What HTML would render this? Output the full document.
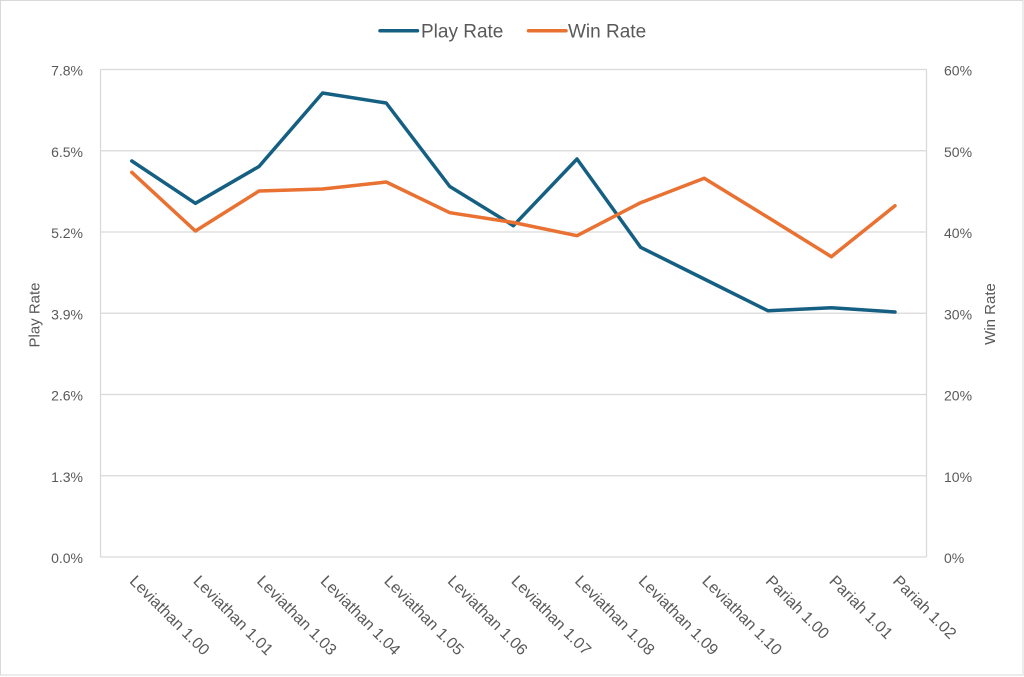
<!DOCTYPE html>
<html>
<head>
<meta charset="utf-8">
<style>
  html,body{margin:0;padding:0;background:#fff;}
  svg{display:block;}
  text{font-family:"Liberation Sans", sans-serif; fill:#595959;}
</style>
</head>
<body>
<svg width="1024" height="677" viewBox="0 0 1024 677" xmlns="http://www.w3.org/2000/svg">
  <rect x="0.5" y="0.5" width="1022.5" height="674.5" fill="#fff" stroke="#d9d9d9" stroke-width="1"/>

  <!-- gridlines -->
  <g stroke="#d9d9d9" stroke-width="1.3" fill="none">
    <line x1="100.5" y1="69.5" x2="926.5" y2="69.5"/>
    <line x1="100.5" y1="150.75" x2="926.5" y2="150.75"/>
    <line x1="100.5" y1="232" x2="926.5" y2="232"/>
    <line x1="100.5" y1="313.25" x2="926.5" y2="313.25"/>
    <line x1="100.5" y1="394.5" x2="926.5" y2="394.5"/>
    <line x1="100.5" y1="475.75" x2="926.5" y2="475.75"/>
    <line x1="100.5" y1="557" x2="926.5" y2="557"/>
    <line x1="100.5" y1="69.5" x2="100.5" y2="557"/>
    <line x1="926.5" y1="69.5" x2="926.5" y2="557"/>
  </g>

  <!-- left axis labels -->
  <g font-size="14" text-anchor="end">
    <text x="83" y="75.5">7.8%</text>
    <text x="83" y="156.75">6.5%</text>
    <text x="83" y="238">5.2%</text>
    <text x="83" y="319.25">3.9%</text>
    <text x="83" y="400.5">2.6%</text>
    <text x="83" y="481.75">1.3%</text>
    <text x="83" y="563">0.0%</text>
  </g>

  <!-- right axis labels -->
  <g font-size="14" text-anchor="start">
    <text x="944" y="75.5">60%</text>
    <text x="944" y="156.75">50%</text>
    <text x="944" y="238">40%</text>
    <text x="944" y="319.25">30%</text>
    <text x="944" y="400.5">20%</text>
    <text x="944" y="481.75">10%</text>
    <text x="944" y="563">0%</text>
  </g>

  <!-- axis titles -->
  <text font-size="15" text-anchor="middle" transform="translate(39.5,315) rotate(-90)">Play Rate</text>
  <text font-size="15" text-anchor="middle" transform="translate(995,314) rotate(-90)">Win Rate</text>

  <!-- x labels -->
  <g font-size="16" text-anchor="start">
    <text transform="translate(128.8,582) rotate(45)">Leviathan 1.00</text>
    <text transform="translate(192.4,582) rotate(45)">Leviathan 1.01</text>
    <text transform="translate(256,582) rotate(45)">Leviathan 1.03</text>
    <text transform="translate(319.6,582) rotate(45)">Leviathan 1.04</text>
    <text transform="translate(383.2,582) rotate(45)">Leviathan 1.05</text>
    <text transform="translate(446.8,582) rotate(45)">Leviathan 1.06</text>
    <text transform="translate(510.4,582) rotate(45)">Leviathan 1.07</text>
    <text transform="translate(574,582) rotate(45)">Leviathan 1.08</text>
    <text transform="translate(637.6,582) rotate(45)">Leviathan 1.09</text>
    <text transform="translate(701.2,582) rotate(45)">Leviathan 1.10</text>
    <text transform="translate(764.8,582) rotate(45)">Pariah 1.00</text>
    <text transform="translate(828.4,582) rotate(45)">Pariah 1.01</text>
    <text transform="translate(892,582) rotate(45)">Pariah 1.02</text>
  </g>

  <!-- series -->
  <polyline fill="none" stroke="#156082" stroke-width="3.5" stroke-linejoin="round" stroke-linecap="round"
    points="131.8,161 195.4,203.3 259,166.5 322.6,93 386.2,103 449.8,186.5 513.4,225.7 577,159 640.6,247.3 704.2,279 767.8,310.7 831.4,307.7 895,312"/>
  <polyline fill="none" stroke="#E97132" stroke-width="3.5" stroke-linejoin="round" stroke-linecap="round"
    points="131.8,172.3 195.4,231 259,191 322.6,189 386.2,182 449.8,212.7 513.4,222.5 577,235.7 640.6,202.7 704.2,178.3 767.8,217.3 831.4,256.7 895,205.7"/>

  <!-- legend -->
  <line x1="380" y1="30.7" x2="417.5" y2="30.7" stroke="#156082" stroke-width="3.5" stroke-linecap="round"/>
  <text x="421" y="37.5" font-size="19">Play Rate</text>
  <line x1="528.5" y1="30.7" x2="566" y2="30.7" stroke="#E97132" stroke-width="3.5" stroke-linecap="round"/>
  <text x="568" y="37.5" font-size="19">Win Rate</text>
</svg>
</body>
</html>
